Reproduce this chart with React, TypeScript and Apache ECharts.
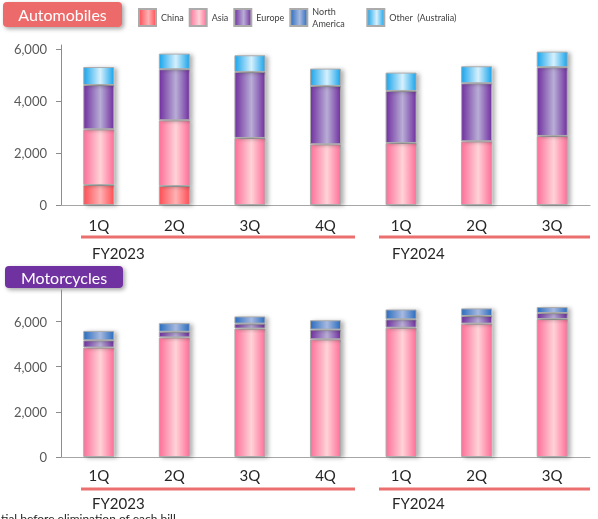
import React, { useEffect, useRef } from "react";
import * as echarts from "echarts";

const quarters = ["1Q", "2Q", "3Q", "4Q", "1Q", "2Q", "3Q"];
const seriesNames = ["China", "Asia", "Europe", "North America", "Other (Australia)"];

// Automobiles (units)
const autoChina = [770, 730, 0, 0, 0, 0, 0];
const autoAsia = [2140, 2526, 2577, 2333, 2385, 2449, 2654];
const autoEurope = [1703, 1962, 2538, 2244, 2000, 2230, 2641];
const autoNorthAmerica = [0, 0, 0, 0, 0, 0, 0];
const autoOther = [693, 602, 641, 667, 705, 654, 602];

// Motorcycles (units)
const motoChina = [0, 0, 0, 0, 0, 0, 0];
const motoAsia = [4850, 5300, 5690, 5215, 5730, 5910, 6115];
const motoEurope = [320, 250, 220, 430, 370, 340, 265];
const motoNorthAmerica = [420, 380, 320, 415, 437, 335, 262];
const motoOther = [25, 25, 25, 20, 25, 25, 40];

const yTicks = [0, 2000, 4000, 6000];
const fyLabels = ["FY2023", "FY2024"];
const titles = ["Automobiles", "Motorcycles"];

const palette: Record<string, [string, string]> = {
  China: ["#FF4F55", "#FFB2B4"],
  Asia: ["#FF6F99", "#FFD3D8"],
  Europe: ["#7130A0", "#B8AED6"],
  "North America": ["#2A6DC0", "#A7B9DF"],
  "Other (Australia)": ["#1AA5EC", "#D6F0FC"],
};

function grad(name: string) {
  const [d, l] = palette[name];
  return new echarts.graphic.LinearGradient(0, 0, 1, 0, [
    { offset: 0, color: d },
    { offset: 0.55, color: l },
    { offset: 1, color: d },
  ]);
}

export default function App() {
  const ref = useRef<HTMLDivElement>(null);
  useEffect(() => {
    if (!ref.current) return;
    const chart = echarts.init(ref.current, null, { renderer: "svg" });
    const font = "Lato";
    const autoData = [autoChina, autoAsia, autoEurope, autoNorthAmerica, autoOther];
    const motoData = [motoChina, motoAsia, motoEurope, motoNorthAmerica, motoOther];

    const mkSeries = (data: number[][], idx: number) =>
      seriesNames.map((name, i) => ({
        name,
        type: "bar",
        stack: "s" + idx,
        xAxisIndex: idx,
        yAxisIndex: idx,
        barWidth: 31,
        data: data[i],
        itemStyle: {
          color: grad(name),
          borderColor: "#ABABAB",
          borderWidth: 1,
          shadowColor: "rgba(0,0,0,0.3)",
          shadowBlur: 4,
          shadowOffsetX: 3,
          shadowOffsetY: 1,
        },
      }));

    const mkX = (idx: number, margin: number) => ({
      type: "category",
      gridIndex: idx,
      data: quarters,
      axisLine: { lineStyle: { color: "#A6A6A6", width: 1.2 } },
      axisTick: { show: false },
      axisLabel: { color: "#262626", fontSize: 15, fontFamily: font, margin },
    });
    const mkY = (idx: number, max: number) => ({
      type: "value",
      gridIndex: idx,
      min: 0,
      max,
      interval: 2000,
      splitLine: { show: false },
      axisLine: { show: true, lineStyle: { color: "#8C8C8C" } },
      axisTick: { show: true, inside: false, length: 5, lineStyle: { color: "#8C8C8C" }, customValues: yTicks },
      axisLabel: {
        color: "#595959",
        fontSize: 13,
        fontFamily: font,
        margin: 14,
        customValues: yTicks,
        formatter: (v: number) => v.toLocaleString("en-US"),
      },
    });

    const badge = (x: number, y: number, w: number, h: number, color: string, text: string) => ({
      type: "group",
      children: [
        {
          type: "rect",
          shape: { x, y, width: w, height: h, r: 4 },
          style: { fill: color, shadowColor: "rgba(0,0,0,0.35)", shadowBlur: 4, shadowOffsetX: 2, shadowOffsetY: 2 },
        },
        {
          type: "text",
          x: x + w / 2,
          y: y + h / 2,
          style: { text, fill: "#fff", fontSize: 16, fontFamily: font, align: "center", verticalAlign: "middle" },
        },
      ],
    });

    const underline = (x1: number, x2: number, y: number) => ({
      type: "line",
      shape: { x1, y1: y, x2, y2: y },
      style: { stroke: "#EB6F6F", lineWidth: 3 },
    });
    const label = (x: number, y: number, text: string) => ({
      type: "text",
      x,
      y,
      style: { text, fill: "#262626", fontSize: 15, fontFamily: font, verticalAlign: "middle" },
    });

    chart.setOption({
      animation: false,
      textStyle: { fontFamily: font },
      legend: {
        data: seriesNames,
        left: 133,
        top: 2,
        itemWidth: 17,
        itemHeight: 17,
        itemGap: 5,
        icon: "rect",
        selectedMode: false,
        formatter: (n: string) =>
          n === "North America" ? "{b|North}\n{b|America}" : n === "Other (Australia)" ? "{c|Other  (Australia)}" : `{a|${n}}`,
        textStyle: {
          color: "#404040",
          fontSize: 9,
          fontFamily: font,
          padding: [0, 0, 0, 0],
          rich: {
            a: { width: 34, fontSize: 9, fontFamily: font, color: "#404040" },
            b: { width: 49, fontSize: 9, fontFamily: font, color: "#404040", lineHeight: 12 },
            c: { fontSize: 9, fontFamily: font, color: "#404040" },
          },
        },
      },
      grid: [
        { left: 61, top: 45, width: 529, height: 160 },
        { left: 61, top: 290, width: 529, height: 167 },
      ],
      xAxis: [mkX(0, 12), mkX(1, 10)],
      yAxis: [mkY(0, 6150), mkY(1, 7400)],
      series: [...mkSeries(autoData, 0), ...mkSeries(motoData, 1)],
      graphic: [
        badge(3, 2, 119, 25, "#EC6A6A", titles[0]),
        badge(5, 266, 118, 22, "#7030A0", titles[1]),
        underline(81, 355, 237),
        underline(379, 590, 237),
        underline(81, 355, 489),
        underline(379, 590, 489),
        label(92, 253, fyLabels[0]),
        label(392, 253, fyLabels[1]),
        label(92, 503, fyLabels[0]),
        label(392, 503, fyLabels[1]),
        {
          type: "text",
          x: 1,
          y: 512,
          style: { text: "tial before elimination of each bill", fill: "#262626", fontSize: 12, fontFamily: font, verticalAlign: "top" },
        },
      ],
    });
    return () => chart.dispose();
  }, []);
  return <div ref={ref} style={{ position: "fixed", left: 0, top: 0, width: 598, height: 519 }} />;
}
